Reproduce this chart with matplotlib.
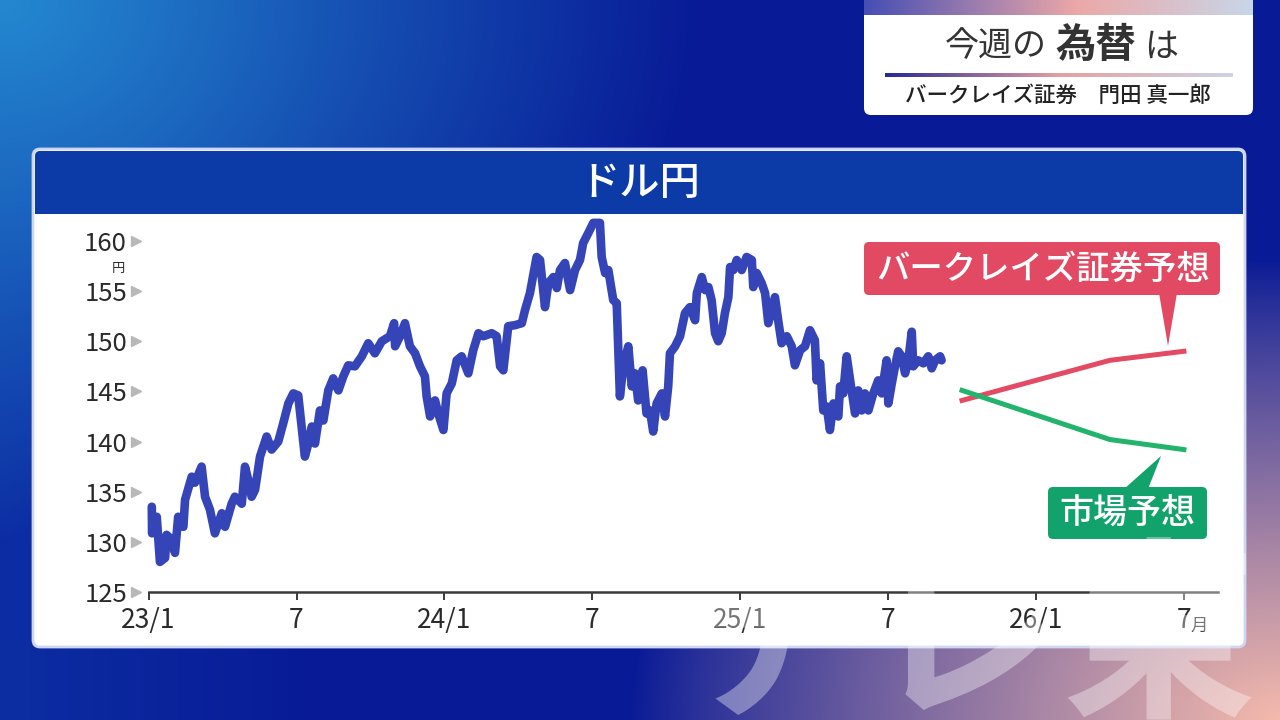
import numpy as np
import matplotlib
matplotlib.use("Agg")
import matplotlib.pyplot as plt
from matplotlib.patches import FancyBboxPatch, Polygon, Rectangle
from matplotlib.transforms import blended_transform_factory

plt.rcParams['font.family'] = ['Noto Sans CJK JP', 'DejaVu Sans']

# ---------------- data ----------------
# x = months since Jan 2023, y = USD/JPY (yen)
months = [0.13, 0.14, 0.33, 0.46, 0.67, 0.73, 0.94, 1.07, 1.20, 1.41, 1.48, 1.75, 1.88, 2.15,
          2.29, 2.49, 2.69, 2.97, 3.10, 3.37, 3.50, 3.78, 3.91, 4.04, 4.18, 4.32, 4.52, 4.79,
          4.99, 5.26, 5.46, 5.67, 5.87, 6.07, 6.34, 6.48, 6.62, 6.75, 6.95, 7.09, 7.29, 7.49,
          7.70, 7.90, 8.10, 8.37, 8.65, 8.91, 9.18, 9.46, 9.79, 9.96, 10.00, 10.20, 10.40,
          10.60, 10.81, 11.01, 11.21, 11.28, 11.42, 11.62, 11.75, 11.96, 12.09, 12.30, 12.50,
          12.70, 12.97, 13.17, 13.38, 13.58, 13.92, 14.12, 14.26, 14.39, 14.59, 14.86, 15.14,
          15.27, 15.47, 15.74, 15.88, 16.08, 16.22, 16.42, 16.56, 16.69, 16.89, 17.10, 17.30,
          17.50, 17.63, 17.84, 18.04, 18.31, 18.38, 18.52, 18.65, 18.85, 18.99, 19.12, 19.26,
          19.46, 19.60, 19.73, 19.86, 20.04, 20.20, 20.34, 20.47, 20.61, 20.82, 20.95, 21.08,
          21.15, 21.36, 21.56, 21.76, 21.96, 22.17, 22.24, 22.44, 22.58, 22.71, 22.84, 22.98,
          23.11, 23.25, 23.38, 23.52, 23.59, 23.72, 23.86, 24.06, 24.26, 24.47, 24.53, 24.67,
          24.87, 25.01, 25.14, 25.41, 25.54, 25.68, 25.89, 26.09, 26.22, 26.43, 26.63, 26.83,
          27.03, 27.10, 27.24, 27.37, 27.51, 27.64, 27.78, 27.98, 28.05, 28.18, 28.32, 28.46,
          28.66, 28.79, 28.93, 29.06, 29.20, 29.40, 29.60, 29.74, 29.94, 30.01, 30.15, 30.28,
          30.41, 30.55, 30.69, 30.82, 30.96, 31.02, 31.22, 31.43, 31.63, 31.77, 31.91, 32.11,
          32.17]
usdjpy = [133.5, 130.85, 132.5, 128.0, 128.4, 130.7, 130.2, 128.9, 132.5, 131.5, 134.2, 136.5,
          135.9, 137.5, 134.5, 133.2, 130.85, 132.85, 131.5, 133.8, 134.5, 133.8, 137.5, 136.2,
          134.5, 135.2, 138.5, 140.5, 139.2, 140.0, 141.8, 143.8, 144.8, 144.6, 138.5, 139.8,
          141.5, 139.8, 143.1, 142.1, 145.1, 146.3, 145.1, 146.5, 147.6, 147.5, 148.5, 149.8,
          148.8, 150.0, 150.5, 151.8, 149.5, 150.5, 151.8, 149.5, 148.8, 147.5, 146.5, 144.5,
          142.5, 144.1, 142.8, 141.15, 144.8, 145.8, 148.1, 148.5, 146.8, 149.1, 150.8, 150.5,
          150.8, 150.5, 147.5, 147.1, 151.5, 151.6, 151.8, 153.1, 154.8, 158.4, 158.1, 153.4,
          155.8, 156.4, 155.3, 157.1, 157.8, 155.1, 157.1, 158.1, 159.8, 160.8, 161.8, 161.8,
          158.4, 156.8, 157.1, 154.1, 153.8, 144.5, 147.5, 149.5, 145.5, 146.8, 144.1, 147.1,
          142.8, 143.1, 141.0, 143.8, 144.8, 142.5, 145.5, 148.8, 149.5, 150.5, 152.8, 153.4,
          152.1, 154.8, 156.4, 155.1, 155.4, 154.1, 150.8, 150.0, 150.8, 152.8, 154.4, 157.4,
          157.1, 158.1, 157.1, 158.4, 158.1, 155.4, 156.8, 155.8, 154.8, 151.8, 154.4, 152.1,
          149.8, 150.5, 149.5, 147.6, 149.1, 149.5, 151.1, 150.1, 146.1, 147.8, 143.1, 143.5,
          141.15, 143.8, 142.5, 145.5, 144.8, 148.5, 146.1, 142.8, 145.1, 143.1, 144.8, 143.1,
          144.8, 146.1, 144.8, 148.1, 143.8, 145.8, 147.5, 149.0, 148.5, 146.8, 148.1, 150.95,
          147.5, 148.1, 147.8, 148.5, 147.3, 148.1, 148.5, 148.1]

forecast_months = [33, 36, 39, 42]
barclays_fc = [144.1, 146.1, 148.1, 149.0]
market_fc = [145.1, 142.65, 140.2, 139.2]

x_ticks = [0, 6, 12, 18, 24, 30, 36, 42]
x_labels = ['23/1', '7', '24/1', '7', '25/1', '7', '26/1', '7']
y_ticks = [125, 130, 135, 140, 145, 150, 155, 160]

title_a, title_b, title_c = '今週の', '為替', 'は'
subtitle = 'バークレイズ証券　門田 真一郎'
chart_title = 'ドル円'
label_barclays = 'バークレイズ証券予想'
label_market = '市場予想'

# ---------------- figure ----------------
W, H = 1280, 720
fig = plt.figure(figsize=(12.8, 7.2), dpi=100)

bg = fig.add_axes([0, 0, 1, 1])
bg.set_xlim(0, W)
bg.set_ylim(H, 0)
bg.axis('off')

# background gradient
yy, xx = np.mgrid[0:H, 0:W].astype(float)
navy = np.array([8, 26, 150]) / 255
light = np.array([36, 136, 208]) / 255
mid = np.array([18, 70, 178]) / 255
pink = np.array([245, 186, 172]) / 255
img = np.ones((H, W, 3)) * navy
w1 = np.clip(1 - np.sqrt((xx / 700) ** 2 + (yy / 540) ** 2), 0, 1)
w3 = np.clip(1 - xx / 320, 0, 1) * 0.45
w2 = np.clip(1 - np.sqrt(((W - xx) / 650) ** 2 + ((H - yy) / 460) ** 2), 0, 1) ** 0.85
for w, c in ((w3, mid), (w1, light), (w2, pink)):
    img = img * (1 - w[..., None]) + c * w[..., None]
bg.imshow(img, extent=(0, W, H, 0), aspect='auto', zorder=0)

# main panel
bg.add_patch(FancyBboxPatch((33, 149), 1212, 498, boxstyle='round,pad=0,rounding_size=7',
                            fc='white', ec='#cfd6f2', lw=2, zorder=1))
bg.add_patch(FancyBboxPatch((35, 151), 1208, 63, boxstyle='round,pad=0,rounding_size=5',
                            fc='#0c3aa6', ec='none', zorder=2))
bg.add_patch(Rectangle((35, 190), 1208, 24, fc='#0c3aa6', ec='none', zorder=2))
bg.text(640, 183, chart_title, ha='center', va='center', color='white', fontsize=29,
        fontweight='medium', zorder=3)

# title box (top right)
bg.add_patch(FancyBboxPatch((864, -10), 389, 125, boxstyle='round,pad=0,rounding_size=7',
                            fc='white', ec='none', zorder=1))
strip = np.linspace(0, 1, 400)
c0 = np.array([70, 78, 180]) / 255
c1 = np.array([236, 168, 168]) / 255
c2 = np.array([200, 214, 232]) / 255
grad = np.where(strip[:, None] < 0.55,
                c0 + (c1 - c0) * (strip[:, None] / 0.55),
                c1 + (c2 - c1) * ((strip[:, None] - 0.55) / 0.45))
bg.imshow(np.tile(grad[None, :, :], (2, 1, 1)), extent=(864, 1253, 15, 0), aspect='auto', zorder=2)
l0 = np.array([40, 40, 150]) / 255
l1 = np.array([228, 160, 160]) / 255
l2 = np.array([205, 212, 228]) / 255
lgrad = np.where(strip[:, None] < 0.5,
                 l0 + (l1 - l0) * (strip[:, None] / 0.5),
                 l1 + (l2 - l1) * ((strip[:, None] - 0.5) / 0.5))
bg.imshow(np.tile(lgrad[None, :, :], (2, 1, 1)), extent=(885, 1233, 77, 73), aspect='auto', zorder=2)
bg.text(996, 47, title_a, ha='center', va='center', fontsize=24.5, color='#333333', zorder=3)
bg.text(1096, 45, title_b, ha='center', va='center', fontsize=29, fontweight='bold',
        color='#333333', zorder=3)
bg.text(1161, 47, title_c, ha='center', va='center', fontsize=24.5, color='#333333', zorder=3)
bg.text(1058, 96, subtitle, ha='center', va='center', fontsize=15.5, fontweight='medium',
        color='#222222', zorder=3)

# ---------------- chart axes ----------------
x_left_px, x_right_px = 148.6, 1218
y_bot_px, y_top_px = 592, 218
ax = fig.add_axes([x_left_px / W, 1 - y_bot_px / H, (x_right_px - x_left_px) / W,
                   (y_bot_px - y_top_px) / H])
ax.patch.set_visible(False)
ax.set_xlim(0, (x_right_px - x_left_px) / 24.65)
ax.set_ylim(125, 125 + (y_bot_px - y_top_px) / 10.03)
for s in ('top', 'right', 'left'):
    ax.spines[s].set_visible(False)
ax.spines['bottom'].set_color('#3a3a3a')
ax.spines['bottom'].set_linewidth(1.8)
ax.set_xticks(x_ticks)
ax.set_xticklabels(x_labels, fontsize=19, color='#2a2a2a')
ax.tick_params(axis='x', direction='out', length=6, width=1.4, color='#3a3a3a', pad=5)
ax.set_yticks(y_ticks)
ax.set_yticklabels([str(v) for v in y_ticks], fontsize=18.5, color='#2a2a2a')
ax.tick_params(axis='y', length=0, pad=15.5)

tr = blended_transform_factory(ax.transAxes, ax.transData)
ax.plot([-0.0115] * len(y_ticks), y_ticks, linestyle='none', marker='>', markersize=7,
        color='#b8b8b8', transform=tr, clip_on=False)
ax.text(-0.028, 157.3, '円', transform=tr, fontsize=9.5, ha='center', va='center',
        color='#2a2a2a')
ax.text(x_ticks[-1] + 0.27, 121.1, '月', fontsize=12.5, ha='left', va='baseline',
        color='#2a2a2a')

ax.plot(months, usdjpy, color='#3545b8', lw=6.2, solid_joinstyle='round',
        solid_capstyle='round', clip_on=False, zorder=3)
ax.plot(forecast_months, barclays_fc, color='#e34a64', lw=3.6, zorder=3)
ax.plot(forecast_months, market_fc, color='#22b36c', lw=3.6, zorder=3)

# callout labels
red = '#e24a63'
green = '#12a26c'
bg.add_patch(FancyBboxPatch((864, 242), 356, 53, boxstyle='round,pad=0,rounding_size=5',
                            fc=red, ec='none', zorder=4))
bg.add_patch(Polygon([(1159, 293), (1177, 293), (1168, 346)], closed=True, fc=red,
                     ec='none', zorder=4))
bg.text(1043, 269, label_barclays, ha='center', va='center', color='white', fontsize=24,
        fontweight='medium', zorder=5)
bg.add_patch(FancyBboxPatch((1048, 487), 159, 52, boxstyle='round,pad=0,rounding_size=5',
                            fc=green, ec='none', zorder=4))
bg.add_patch(Polygon([(1124, 489), (1148, 489), (1161, 456)], closed=True, fc=green,
                     ec='none', zorder=4))
bg.text(1127, 513, label_market, ha='center', va='center', color='white', fontsize=24.5,
        fontweight='medium', zorder=5)

# faint watermark
fig.text(965 / W, 1 - 645 / H, 'テレ東', ha='center', va='center', fontsize=140,
         fontweight='bold', color='white', alpha=0.36, zorder=10)

fig.savefig('out.png', dpi=100)
